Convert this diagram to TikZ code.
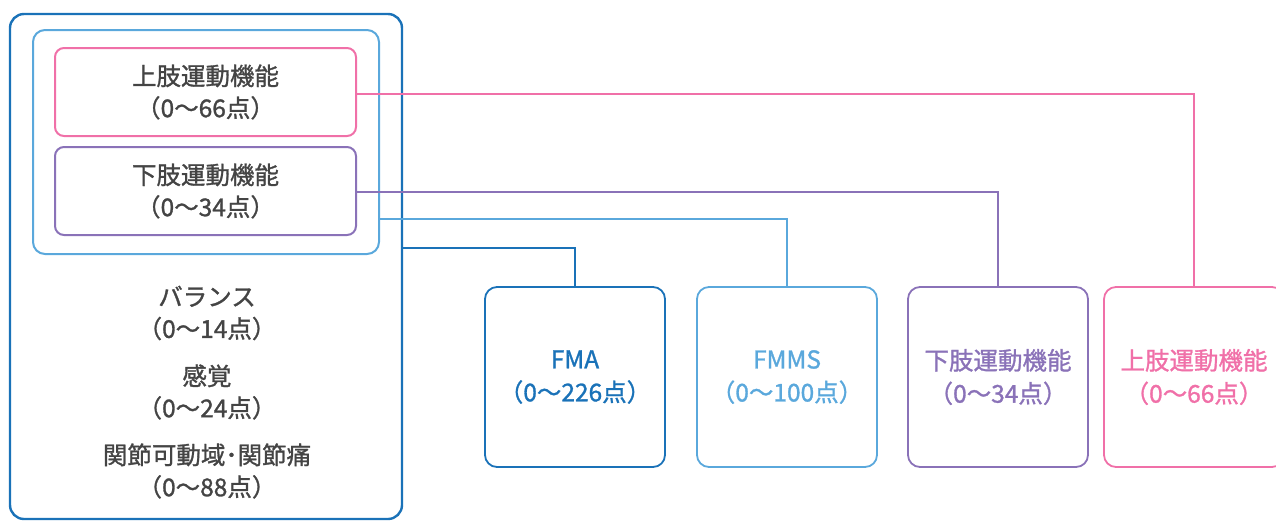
\documentclass[tikz,border=0pt]{standalone}
\usepackage{fontspec}
\setmainfont[FakeBold=1.2]{Noto Sans CJK JP}
\usetikzlibrary{positioning}
\definecolor{dblue}{HTML}{1A72B8}
\definecolor{lblue}{HTML}{5AA8DC}
\definecolor{vio}{HTML}{8A72B8}
\definecolor{pnk}{HTML}{F070A8}
\definecolor{txt}{HTML}{444444}
\tikzset{
  box/.style={draw, line width=2pt, rounded corners=#1, inner sep=0pt},
  lbl/.style={text=txt, align=center, font=\fontsize{24.5}{32}\selectfont, inner sep=0pt},
  res/.style={draw=#1, text=#1, line width=1.8pt, rounded corners=12pt, minimum width=180pt, minimum height=180pt, align=center, font=\fontsize{24.5}{33}\selectfont, inner sep=0pt},
  link/.style={draw=#1, line width=1.6pt}
}
\begin{document}
\begin{tikzpicture}[x=1pt,y=-1pt]
\useasboundingbox (0,0) rectangle (1276,523);
% outer and inner frames
\node[box=14pt, draw=dblue, line width=2.4pt, minimum width=392pt, minimum height=505pt] (outer) at (206,266.5) {};
\node[box=12pt, draw=lblue, minimum width=346pt, minimum height=224pt] (inner) at (206,142) {};
\node[box=9pt, draw=pnk, minimum width=301pt, minimum height=88pt] (up) at (205.5,92) {};
\node[box=9pt, draw=vio, minimum width=301pt, minimum height=88pt] (low) at (205.5,191) {};
\node[lbl] (uptxt) at (up.center) {上肢運動機能\\（0～66点）};
\node[lbl] (lowtxt) at (low.center) {下肢運動機能\\（0～34点）};
\node[lbl] (bal) at (207,313) {バランス\\（0～14点）};
\node[lbl] (sens) at (207,392) {感覚\\（0～24点）};
\node[lbl] (rom) at (207,471) {関節可動域･関節痛\\（0～88点）};
% result boxes
\node[res=dblue] (fma) at (575,377) {FMA\\（0～226点）};
\node[res=lblue] (fmms) at (787,377) {FMMS\\（0～100点）};
\node[res=vio] (lowr) at (998,377) {下肢運動機能\\（0～34点）};
\node[res=pnk] (upr) at (1194,377) {上肢運動機能\\（0～66点）};
% connectors
\coordinate (oa) at ([yshift=-235pt]outer.north east);
\coordinate (ia) at ([yshift=36pt]inner.south east);
\draw[link=dblue] (oa) -| (fma.north);
\draw[link=lblue] (ia) -| (fmms.north);
\draw[link=vio] ([yshift=-1pt]low.east) -| (lowr.north);
\draw[link=pnk] ([yshift=-2pt]up.east) -| (upr.north);
\end{tikzpicture}
\end{document}
